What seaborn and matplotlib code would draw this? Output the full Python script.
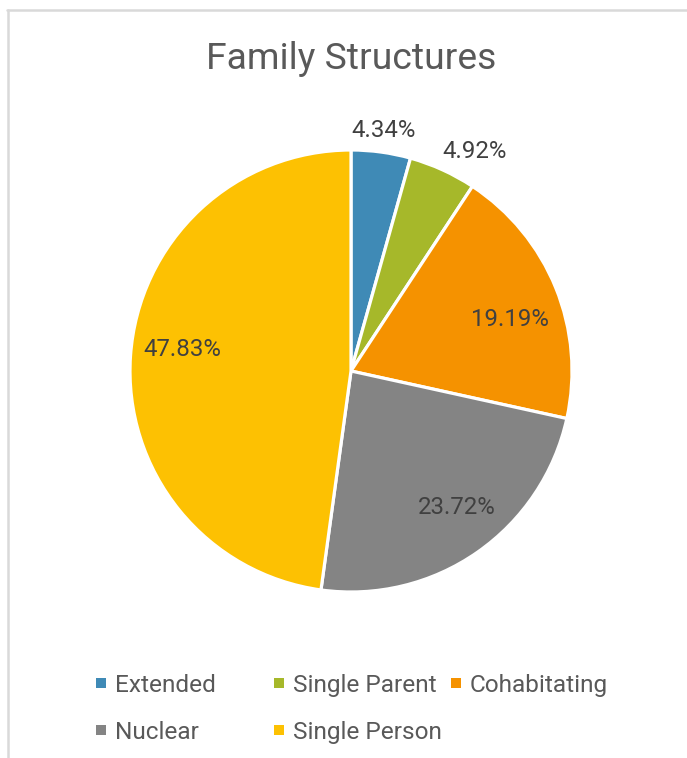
import matplotlib
matplotlib.use("Agg")
import matplotlib.pyplot as plt
from matplotlib.patches import Rectangle
from matplotlib.lines import Line2D
import numpy as np
import seaborn as sns

# Family structure shares (percent)
categories = ["Extended", "Single Parent", "Cohabitating", "Nuclear", "Single Person"]
shares = [4.34, 4.92, 19.19, 23.72, 47.83]
colors = ["#3F8AB6", "#A6B82A", "#F59200", "#848484", "#FDC102"]

sns.set_theme(style="white")
plt.rcParams["font.family"] = ["Roboto", "DejaVu Sans"]

W, H = 687, 758
fig = plt.figure(figsize=(W / 100, H / 100), dpi=100)
fig.patch.set_facecolor("white")

# Pie axes: centre (351, 371) px, radius 221 px
cx, cy, r = 351, 371, 221
ax = fig.add_axes([(cx - r) / W, (H - cy - r) / H, 2 * r / W, 2 * r / H])
wedges, _ = ax.pie(
    shares, colors=colors, startangle=90, counterclock=False, radius=1.0,
    wedgeprops=dict(edgecolor="white", linewidth=2.3, joinstyle="miter"),
)
ax.set_xlim(-1, 1)
ax.set_ylim(-1, 1)
ax.set_aspect("equal")
ax.axis("off")

# Data labels: radial distance and angular nudge per slice
label_dist = [1.10, 1.14, 0.755, 0.78, 0.77]
label_nudge = [0.0, -5.0, -4.3, 3.0, -3.5]
for w, val, d, nd in zip(wedges, shares, label_dist, label_nudge):
    ang = np.deg2rad((w.theta1 + w.theta2) / 2 + nd)
    ax.text(d * np.cos(ang), d * np.sin(ang), f"{val:.2f}%",
            ha="center", va="center", fontsize=17.3, color="#404040")

# Title
fig.text(cx / W, 1 - 69 / H, "Family Structures", ha="center", va="baseline",
         fontsize=26.8, color="#595959")

# Chart-area frame (top and left edges)
fig.add_artist(Line2D([7 / W, 1], [1 - 10 / H, 1 - 10 / H], color="#D9D9D9",
                      linewidth=1.8, transform=fig.transFigure))
fig.add_artist(Line2D([8 / W, 8 / W], [0, 1 - 10 / H], color="#D9D9D9",
                      linewidth=1.8, transform=fig.transFigure))

# Legend in two rows, three fixed-width columns
col_x = [96, 274, 451]
row_y = [683, 730]
sq = 10
for i, (name, col) in enumerate(zip(categories, colors)):
    c, rr = i % 3, i // 3
    x0, y0 = col_x[c], row_y[rr]
    fig.add_artist(Rectangle((x0 / W, (H - y0 - sq / 2) / H), sq / W, sq / H,
                             facecolor=col, edgecolor="none",
                             transform=fig.transFigure))
    fig.text((x0 + 19) / W, 1 - y0 / H, name, ha="left", va="center_baseline",
             fontsize=17.6, color="#595959")

fig.savefig("out.png", dpi=100, facecolor="white")
